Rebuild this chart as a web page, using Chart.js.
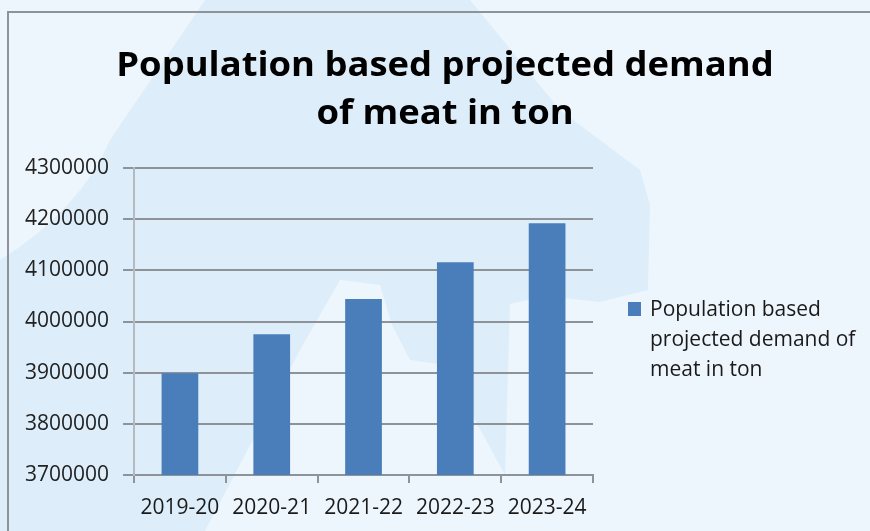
<!DOCTYPE html>
<html>
<head>
<meta charset="utf-8">
<script src="https://cdn.jsdelivr.net/npm/chart.js@4"></script>
<style>
  html, body { margin: 0; padding: 0; background: #eef6fd; }
  #wrap { position: relative; width: 870px; height: 531px; overflow: hidden; }
  #frame { position: absolute; left: 7px; top: 11px; right: 0; bottom: 0;
           border-top: 2px solid #8e9399; border-left: 2px solid #8e9399; pointer-events: none; }
  #legend { position: absolute; left: 628px; top: 293px; width: 242px;
            font: 21px "Open Sans", sans-serif; color: #1a1a1a; line-height: 30px; }
  #legend .box { position: absolute; left: 0; top: 9px; width: 13px; height: 14px; background: #4a7ebb; }
  #legend .txt { margin-left: 22px; white-space: nowrap; }
</style>
</head>
<body>
<div id="wrap">
  <canvas id="chart" width="870" height="531"></canvas>
  <div id="frame"></div>
  <div id="legend"><span class="box"></span><div class="txt">Population based<br>projected demand of<br>meat in ton</div></div>
</div>
<script>
const categories = ['2019-20', '2020-21', '2021-22', '2022-23', '2023-24'];
const demand = [3899000, 3975000, 4044000, 4116000, 4192000];
const seriesName = 'Population based projected demand of meat in ton';
const titleLines = ['Population based projected demand', 'of meat in ton'];

const BAR = '#4a7ebb';
const GRID = '#8e9399';
const FONT = '"Open Sans", sans-serif';

// light watermark shape behind the chart
const backdrop = {
  id: 'backdrop',
  beforeDraw(chart) {
    const c = chart.ctx;
    c.save();
    c.fillStyle = '#eef6fd';
    c.fillRect(0, 0, chart.width, chart.height);
    c.fillStyle = '#ddeefa';
    c.beginPath();
    c.moveTo(205, 0);
    c.lineTo(470, 0);
    c.lineTo(560, 110);
    c.lineTo(640, 170);
    c.lineTo(650, 205);
    c.lineTo(648, 290);
    c.lineTo(600, 302);
    c.lineTo(545, 296);
    c.lineTo(510, 304);
    c.lineTo(505, 475);
    c.lineTo(445, 365);
    c.lineTo(410, 360);
    c.lineTo(392, 325);
    c.lineTo(380, 285);
    c.lineTo(340, 280);
    c.lineTo(300, 350);
    c.lineTo(205, 531);
    c.lineTo(0, 531);
    c.lineTo(0, 260);
    c.quadraticCurveTo(80, 210, 110, 140);
    c.closePath();
    c.fill();
    c.restore();
  }
};

// title is centred on the whole picture, not on the plot, and a bit stretched
const bigTitle = {
  id: 'bigTitle',
  afterDraw(chart) {
    const c = chart.ctx;
    c.save();
    c.fillStyle = '#000';
    c.font = 'bold 34px ' + FONT;
    c.textAlign = 'center';
    c.textBaseline = 'alphabetic';
    c.translate(445, 0);
    c.scale(1.07, 1);
    c.fillText(titleLines[0], 0, 76);
    c.fillText(titleLines[1], 0, 124);
    c.restore();
  }
};

new Chart(document.getElementById('chart'), {
  type: 'bar',
  data: {
    labels: categories,
    datasets: [{
      label: seriesName,
      data: demand,
      backgroundColor: BAR,
      borderWidth: 0,
      barPercentage: 0.4,
      categoryPercentage: 1.0
    }]
  },
  plugins: [backdrop, bigTitle],
  options: {
    responsive: false,
    animation: false,
    layout: { padding: { left: 11, right: 277, top: 168, bottom: 0 } },
    plugins: {
      legend: { display: false },
      tooltip: { enabled: false },
      title: { display: false }
    },
    scales: {
      x: {
        afterFit: s => { s.height = 56; },
        grid: { display: true, drawOnChartArea: false, color: GRID, lineWidth: 2, tickLength: 8, offset: true },
        border: { color: GRID, width: 2 },
        ticks: { color: '#1a1a1a', padding: 12, font: { family: FONT, size: 21 } }
      },
      y: {
        min: 3700000,
        max: 4300000,
        grid: { color: GRID, lineWidth: 2, tickLength: 11 },
        border: { color: '#b5bac0', width: 2 },
        ticks: {
          stepSize: 100000,
          color: '#222',
          padding: 14,
          font: { family: FONT, size: 21 },
          callback: v => String(v)
        }
      }
    }
  }
});
</script>
</body>
</html>
